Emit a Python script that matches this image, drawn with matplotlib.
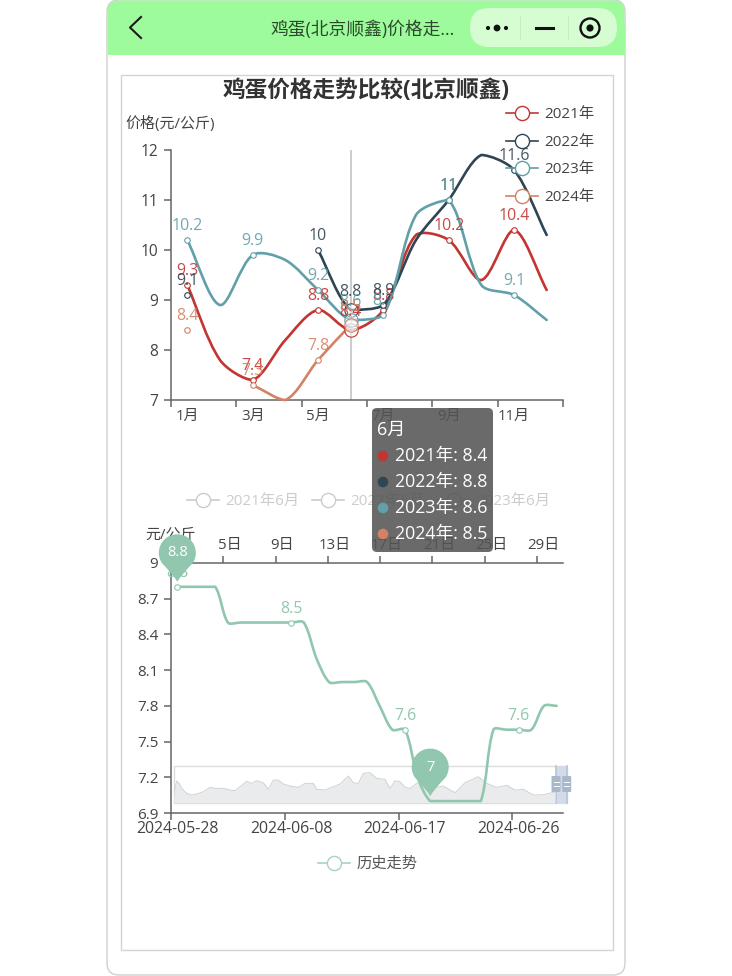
import numpy as np
import matplotlib
matplotlib.use("Agg")
import matplotlib.pyplot as plt
from matplotlib.patches import FancyBboxPatch, PathPatch, Rectangle, Circle
from matplotlib.path import Path
from matplotlib.transforms import IdentityTransform

plt.rcParams['font.family'] = ['Open Sans', 'Noto Sans CJK SC', 'DejaVu Sans']

nan = np.nan
months = ['%d月' % m for m in range(1, 13)]
y2021 = [9.3, 7.8, 7.4, 8.2, 8.8, 8.4, 8.8, 10.3, 10.2, 9.4, 10.4, 9.2]
y2022 = [9.1, nan, nan, nan, 10, 8.8, 8.9, 10.2, 11, 11.9, 11.6, 10.3]
y2023 = [10.2, 8.9, 9.9, 9.8, 9.2, 8.6, 8.7, 10.7, 11, 9.3, 9.1, 8.6]
y2024 = [8.4, nan, 7.3, 7.0, 7.8, 8.5, nan, nan, nan, nan, nan, nan]
years = ['2021年', '2022年', '2023年', '2024年']
colors = ['#c23531', '#2f4554', '#61a0a8', '#d48265']
label_months = [1, 3, 5, 6, 7, 9, 11]

days = ['%d日' % d for d in range(1, 31)]
dates = ['2024-05-28', '2024-06-08', '2024-06-17', '2024-06-26']
history = [8.8, 8.8, 8.8, 8.8, 8.5, 8.5, 8.5, 8.5, 8.5, 8.5, 8.5, 8.2, 8.0, 8.0, 8.0, 8.0,
           7.8, 7.6, 7.6, 7.2, 7.0, 7.0, 7.0, 7.0, 7.0, 7.6, 7.6, 7.6, 7.6, 7.8, 7.8]
hist_color = '#91c7ae'

# overview shape in the zoom slider
shadow_x = [192, 200, 207, 215, 222, 230, 245, 260, 280, 300, 315, 340, 360, 375, 390, 410, 425, 440,
            460, 475, 490, 505, 520, 540, 565, 585, 610, 620, 645, 670, 690, 715, 730, 745, 760, 780,
            800, 825, 840, 855, 870, 885, 900, 920, 945, 975, 1000, 1035, 1065, 1105, 1130, 1160,
            1190, 1215, 1240, 1270, 1300, 1335]
shadow_h = [28, 65, 58, 43, 36, 28, 23, 26, 33, 46, 43, 43, 38, 36, 48, 64, 58, 66,
            60, 40, 68, 68, 56, 50, 46, 58, 58, 40, 38, 48, 56, 80, 60, 58, 88, 90,
            73, 70, 43, 66, 63, 46, 43, 58, 63, 46, 50, 30, 60, 78, 58, 46,
            52, 38, 40, 23, 24, 32]

W, H = 732, 976
fig = plt.figure(figsize=(W / 100, H / 100), dpi=100, facecolor='white')


def px_axes(left, top, right, bottom, **kw):
    return fig.add_axes([left / W, 1 - bottom / H, (right - left) / W, (bottom - top) / H], **kw)


def smooth_path(xs, ys, sx, sy, smooth=0.3):
    # same idea as echarts smooth line, worked out in pixel space
    p = np.column_stack([xs, ys]) * [sx, sy]
    n = len(p)
    lo, hi = p.min(axis=0), p.max(axis=0)
    nxt, prv = [None] * n, [None] * n
    for i in range(n):
        cur = p[i]
        a = p[max(i - 1, 0)]
        b = p[min(i + 1, n - 1)]
        la = np.hypot(*(cur - a))
        lb = np.hypot(*(b - cur))
        r = lb / (la + lb)
        v = b - a
        # control points stay inside the bounds of the series
        nxt[i] = np.clip(cur + v * smooth * r, lo, hi)
        prv[i] = np.clip(cur - v * smooth * (1 - r), lo, hi)
    verts = [p[0]]
    codes = [Path.MOVETO]
    for i in range(n - 1):
        verts += [nxt[i], prv[i + 1], p[i + 1]]
        codes += [Path.CURVE4] * 3
    return Path(np.array(verts) / [sx, sy], codes)


def draw_smooth(ax, xs, ys, color, sx, sy, lw=1.9):
    xs = np.asarray(xs, dtype=float)
    ys = np.asarray(ys, dtype=float)
    good = ~np.isnan(ys)
    start = None
    for i in range(len(xs) + 1):
        if i < len(xs) and good[i]:
            if start is None:
                start = i
        else:
            if start is not None and i - start > 1:
                ax.add_patch(PathPatch(smooth_path(xs[start:i], ys[start:i], sx, sy), fc='none',
                                       ec=color, lw=lw, zorder=3, clip_on=False, capstyle='round'))
            start = None


def draw_pin(ax, x, y, text):
    # balloon marker, built in screen pixels above its data point
    tip = ax.transData.transform((x, y))
    r = 18.5
    tip = tip + [0, 5]
    cy = tip[1] + 29
    th = np.radians(np.linspace(-35, 215, 60))
    pts = [(tip[0] + r * np.cos(t), cy + r * np.sin(t)) for t in th]
    verts = pts + [(tip[0] - 4, cy - 22), (tip[0], tip[1]), (tip[0] + 4, cy - 22), pts[0]]
    codes = [Path.MOVETO] + [Path.LINETO] * (len(pts) - 1) + [Path.CURVE3, Path.CURVE3, Path.CURVE3, Path.CURVE3]
    ov.add_patch(PathPatch(Path(verts, codes), fc=hist_color, ec='none', zorder=7,
                           transform=IdentityTransform(), clip_on=False))
    ov.text(tip[0], cy, text, color='white', fontsize=10.5, ha='center', va='center', zorder=8,
            transform=IdentityTransform())


# page furniture
bg = px_axes(0, 0, W, H, zorder=0)
bg.set_xlim(0, W)
bg.set_ylim(H, 0)
bg.axis('off')
bg.add_patch(FancyBboxPatch((107, 0), 518, 975, boxstyle='round,pad=0,rounding_size=12',
                            fc='white', ec='#cfcfcf', lw=1))
bg.add_patch(FancyBboxPatch((107.5, 0.5), 517, 54, boxstyle='round,pad=0,rounding_size=11',
                            fc='#9dfb9b', ec='none'))
bg.add_patch(Rectangle((107.5, 25), 517, 30, fc='#9dfb9b', ec='none'))
bg.add_patch(Rectangle((121, 74.5), 492, 875.5, fc='white', ec='#d4d4d4', lw=1))
bg.plot([141, 130, 141], [17, 27.5, 38], color='#1a1a1a', lw=1.5)
bg.text(363, 29.5, '鸡蛋(北京顺鑫)价格走...', fontsize=12.8, color='#2b4a2b', ha='center', va='center')
bg.add_patch(FancyBboxPatch((470, 8), 147, 39, boxstyle='round,pad=0,rounding_size=19.5',
                            fc='#d6fcd2', ec='none'))
bg.plot([520, 520], [16, 39], color='#c4ecbf', lw=0.7)
bg.plot([568, 568], [16, 39], color='#c4ecbf', lw=0.7)
bg.scatter([488, 497, 506], [28, 28, 28], s=[9, 24, 9], color='#111111', lw=0)
bg.plot([536, 553], [28, 28], color='#111111', lw=2.2)
bg.add_patch(Circle((590, 28), 9.5, fc='none', ec='#111111', lw=1.7))
bg.add_patch(Circle((590, 28), 3.6, fc='#111111', ec='none'))

# slider of the lower chart sits behind the line
bg.add_patch(Rectangle((174, 766), 393, 36.7, fc='none', ec='#dcdcdc', lw=1, zorder=2))
bg.add_patch(Rectangle((556, 766), 10.7, 36.7, fc='#d2dbe9', ec='none', zorder=3))
for hx in [556, 566.7]:
    bg.plot([hx, hx], [766, 802.7], color='#b8c4d8', lw=1.2, zorder=3)
    bg.add_patch(FancyBboxPatch((hx - 4.5, 776), 9, 16, boxstyle='round,pad=0,rounding_size=1',
                                fc='#a7b7cc', ec='none', zorder=4))
    bg.plot([hx - 2.5, hx + 2.5], [782, 782], color='white', lw=0.7, zorder=5)
    bg.plot([hx - 2.5, hx + 2.5], [786, 786], color='white', lw=0.7, zorder=5)

sh = px_axes(174, 766, 555, 802.7, zorder=1)
sh.patch.set_alpha(0)
sh.axis('off')
sh.set_xlim(shadow_x[0], shadow_x[-1])
sh.set_ylim(0, 110)
sh.fill_between(shadow_x, 0, shadow_h, color='#e9ebec', lw=0)
sh.plot(shadow_x, shadow_h, color='#cfd2d4', lw=0.7)

# top chart
ax = px_axes(171, 150, 563, 400, zorder=2)
ax.patch.set_alpha(0)
ax.set_xlim(0.5, 12.5)
ax.set_ylim(7, 12)
for s in ['top', 'right']:
    ax.spines[s].set_visible(False)
for s in ['left', 'bottom']:
    ax.spines[s].set_color('#666666')
    ax.spines[s].set_linewidth(1.1)
x_m = np.arange(1, 13)
ax.set_xticks(np.arange(0.5, 13, 2))
ax.set_xticklabels([])
ax.set_xticks(x_m[::2], minor=True)
ax.set_xticklabels(months[::2], minor=True, fontsize=10.8, color='#444444')
ax.tick_params(axis='x', which='major', length=5, width=1.1, color='#666666')
ax.tick_params(axis='x', which='minor', length=0, pad=6.5)
ax.set_yticks(range(7, 13))
ax.tick_params(axis='y', length=5, width=1.1, color='#666666', labelcolor='#444444', labelsize=11.2, pad=4)
ax.axvline(6, color='#c8c8c8', lw=1.3, zorder=2)

sx_top = 392 / 12
sy_top = 250 / 5
for vals, col in zip([y2021, y2022, y2023, y2024], colors):
    draw_smooth(ax, x_m, vals, col, sx_top, sy_top)
    for m in label_months:
        v = vals[m - 1]
        if np.isnan(v):
            continue
        hover = m == 6
        ax.plot([m], [v], 'o', ms=9.6 if hover else 4, mfc=(1, 1, 1, 0.5) if hover else 'white', mec=col,
                mew=0.8, zorder=4, clip_on=False)
        ax.annotate('%g' % v, (m, v), xytext=(0, 13 if hover else 10), textcoords='offset points',
                    color=col, fontsize=11.4, ha='center', va='center', zorder=5, alpha=0.9,
                    annotation_clip=False)

# lower chart
ax2 = px_axes(171, 563, 563, 813, zorder=3)
ax2.patch.set_alpha(0)
x_h = np.arange(len(history))
ax2.set_xlim(-0.5, len(history) - 0.5)
ax2.set_ylim(6.9, 9)
ax2.spines['right'].set_visible(False)
ax2.spines['top'].set_visible(False)
for s in ['left', 'bottom']:
    ax2.spines[s].set_color('#666666')
    ax2.spines[s].set_linewidth(1.1)
ax2.set_yticks([6.9, 7.2, 7.5, 7.8, 8.1, 8.4, 8.7, 9])
ax2.set_yticklabels(['6.9', '7.2', '7.5', '7.8', '8.1', '8.4', '8.7', '9'])
ax2.tick_params(axis='y', length=5, width=1.1, color='#666666', labelcolor='#444444', labelsize=11, pad=4)
ax2.set_xticks(x_h[::9] - 0.5)
ax2.set_xticklabels([])
ax2.set_xticks(x_h[::9], minor=True)
ax2.set_xticklabels(dates, minor=True, fontsize=11.4, color='#444444')
ax2.tick_params(axis='x', which='major', length=5, width=1.1, color='#666666')
ax2.tick_params(axis='x', which='minor', length=0, pad=5.5)

draw_smooth(ax2, x_h, history, hist_color, 392 / len(history), 250 / 2.1)
for i in x_h[::9]:
    ax2.plot([i], [history[i]], 'o', ms=4, mfc='white', mec=hist_color, mew=0.8, zorder=4)
    ax2.annotate('%g' % history[i], (i, history[i]), xytext=(0, 10), textcoords='offset points',
                 color=hist_color, fontsize=11.4, ha='center', va='center', zorder=5)

# day axis along the top of the lower chart
top = ax2.twiny()
top.set_xlim(0.5, 30.5)
top.patch.set_alpha(0)
for s in ['left', 'right', 'bottom']:
    top.spines[s].set_visible(False)
top.spines['top'].set_color('#666666')
top.spines['top'].set_linewidth(1.1)
day_pos = np.arange(1, 31, 4)
top.set_xticks(day_pos - 0.5)
top.set_xticklabels([])
top.set_xticks(day_pos, minor=True)
top.set_xticklabels([days[d - 1] for d in day_pos], minor=True, fontsize=10.8, color='#444444')
top.tick_params(axis='x', which='major', length=5, width=1.1, color='#666666')
top.tick_params(axis='x', which='minor', length=0, pad=7)

# overlay: title, legends, pins, tooltip
ov = px_axes(0, 0, W, H, zorder=6)
ov.patch.set_alpha(0)
ov.set_xlim(0, W)
ov.set_ylim(H, 0)
ov.axis('off')
ov.text(366, 91, '鸡蛋价格走势比较(北京顺鑫)', fontsize=16.3, fontweight='bold', color='#333333',
        ha='center', va='center')
ov.text(125, 124, '价格(元/公斤)', fontsize=10.8, color='#444444', ha='left', va='center')
ov.text(145, 535.5, '元/公斤', fontsize=10.8, color='#444444', ha='left', va='center', zorder=1)


def legend_item(x, y, text, color, txt_color='#444444', gap=22):
    ov.plot([x - 16, x + 16], [y, y], color=color, lw=1.2, zorder=2)
    ov.plot([x], [y], 'o', ms=10.2, mfc='white', mec=color, mew=1.0, zorder=3)
    ov.text(x + gap, y + 1.5, text, fontsize=11, color=txt_color, ha='left', va='center', zorder=3)


for yy, name, col in zip([113, 141, 168, 196], years, colors):
    legend_item(522, yy, name, col)
for xx, name in zip([203, 328, 454], ['2021年6月', '2022年6月', '2023年6月']):
    legend_item(xx, 500, name, '#cccccc', txt_color='#cccccc')
legend_item(334, 863, '历史走势', '#a7d3c1', txt_color='#555555')

imax = int(np.argmax(history))
imin = int(np.argmin(history))
fig.canvas.draw()
draw_pin(ax2, x_h[imax], history[imax], '%g' % history[imax])
draw_pin(ax2, x_h[imin], history[imin], '%g' % history[imin])

# tooltip for June
ov.add_patch(FancyBboxPatch((372, 408), 121, 144, boxstyle='round,pad=0,rounding_size=5',
                            fc=(0.33, 0.33, 0.33, 0.87), ec='none', zorder=10))
ov.text(377, 429.5, months[5], color='white', fontsize=13, ha='left', va='center', zorder=11)
for yy, name, col, vals in zip([455, 481, 507, 533], years, colors, [y2021, y2022, y2023, y2024]):
    ov.add_patch(Circle((383, yy + 1), 5.3, fc=col, ec='none', zorder=11))
    ov.text(395, yy + 1.5, '%s: %g' % (name, vals[5]), color='white', fontsize=12.8, ha='left', va='center',
            zorder=11)

fig.savefig('out.png', dpi=100)
